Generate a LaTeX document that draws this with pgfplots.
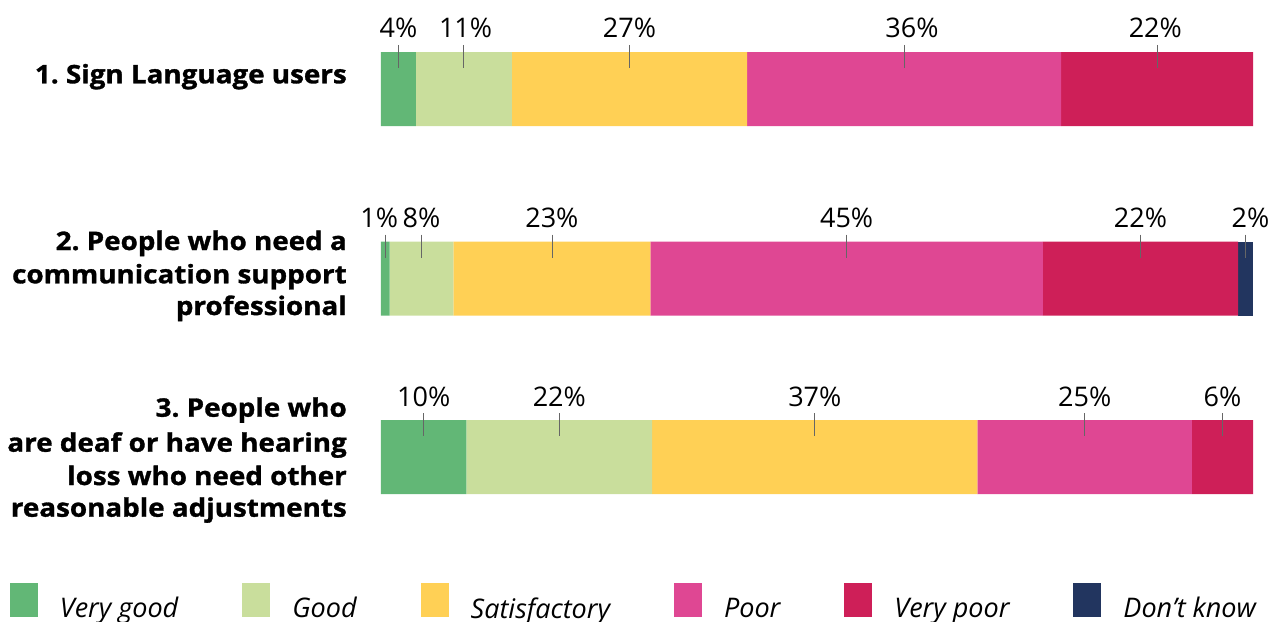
\documentclass[border=0pt]{standalone}
\usepackage{fontspec}
\setmainfont{Open Sans}
\newfontfamily\catfont{Open Sans}[UprightFont={* Bold}, FakeBold=1.2, FakeStretch=1.09]
\usepackage{pgfplots}
\pgfplotsset{compat=1.18}
\usepackage{pgfplotstable}
\frenchspacing

\definecolor{cVG}{HTML}{62B776}
\definecolor{cG}{HTML}{C9DE9C}
\definecolor{cS}{HTML}{FFD055}
\definecolor{cP}{HTML}{DF4793}
\definecolor{cVP}{HTML}{CE1F58}
\definecolor{cDK}{HTML}{22355F}

% bar centre (px from top) and shares in percent
\pgfplotstableread{
y vg good sat poor vpoor dk
89 4 11 27 36 22 0
278.5 1.0 7.3 22.6 45.0 22.4 1.7
457 9.8 21.3 37.3 24.6 7.0 0
}\bars

% tick-line x, text x, tick-line centre y, text baseline y, label
\pgfplotstableread{
mx tx my ty lab
2 2 56.5 38 4
9.5 9.7 56.5 38 11
28.5 28.5 56.5 38 27
60 60.9 56.5 38 36
89 88.8 56.5 38 22
0.5 -0.2 246 227.5 1
4.65 4.65 246 227.5 8
19.6 19.6 246 227.5 23
53.4 53.4 246 227.5 45
87.1 87.1 246 227.5 22
99.15 99.7 246 227.5 2
4.9 4.9 424.5 406 10
20.45 20.45 424.5 406 22
49.75 49.75 424.5 406 37
80.7 80.7 424.5 406 25
96.5 96.5 424.5 406 6
}\labels

\pgfplotsset{
  base/.style={
    scale only axis, width=872pt, height=621pt,
    xmin=0, xmax=100, ymin=0, ymax=621, y dir=reverse,
    hide axis, clip=false,
  }
}

\begin{document}
\begin{tikzpicture}
\begin{axis}[base,
    xbar stacked, bar width=74pt,
    legend columns=6,
    legend image code/.code={\fill[#1] (0pt,-9pt) rectangle (28pt,25pt);},
    legend style={at={(axis cs:-42.55,601.5)}, anchor=west, draw=none, fill=none,
      inner sep=0pt, outer sep=0pt,
      nodes={inner sep=0pt, font=\fontsize{27}{30}\selectfont\itshape},
      /tikz/every odd column/.append style={column sep=22pt},
      /tikz/every even column/.append style={column sep=64pt}},
  ]
  \path (axis cs:-43.69,0) rectangle (axis cs:101.95,621);
  \addplot[fill=cVG, draw=none] table[x=vg, y=y] {\bars};
  \addlegendentry{Very good}
  \addplot[fill=cG, draw=none] table[x=good, y=y] {\bars};
  \addlegendentry{Good}
  \addplot[fill=cS, draw=none] table[x=sat, y=y] {\bars};
  \addlegendentry{Satisfactory}
  \addplot[fill=cP, draw=none] table[x=poor, y=y] {\bars};
  \addlegendentry{Poor}
  \addplot[fill=cVP, draw=none] table[x=vpoor, y=y] {\bars};
  \addlegendentry{Very poor}
  \addplot[fill=cDK, draw=none] table[x=dk, y=y] {\bars};
  \addlegendentry{Don’t know}
\end{axis}
\begin{axis}[base]
  \addplot[only marks, mark=|, mark size=11.5pt,
    mark options={draw=black!60, line width=0.7pt}]
    table[x=mx, y=my] {\labels};
  \addplot[only marks, mark=none, point meta=explicit symbolic,
    nodes near coords={\pgfplotspointmeta\%},
    every node near coord/.style={anchor=base, inner sep=0pt,
      font=\fontsize{27}{30}\selectfont, text=black}]
    table[x=tx, y=ty, meta=lab] {\labels};
  \begin{scope}[every node/.style={anchor=base east, inner sep=0pt,
      font=\fontsize{25.5}{30}\selectfont\catfont}]
  \node at (axis cs:-3.9,83.3) {1. Sign Language users};
  \node at (axis cs:-3.9,250) {2. People who need a};
  \node at (axis cs:-3.9,283.3) {communication support};
  \node at (axis cs:-3.9,315) {professional};
  \node at (axis cs:-3.9,416.7) {3. People who};
  \node at (axis cs:-3.9,451.7) {are deaf or have hearing};
  \node at (axis cs:-3.9,485) {loss who need other};
  \node at (axis cs:-3.9,516.7) {reasonable adjustments};
  \end{scope}
\end{axis}
\end{tikzpicture}
\end{document}
